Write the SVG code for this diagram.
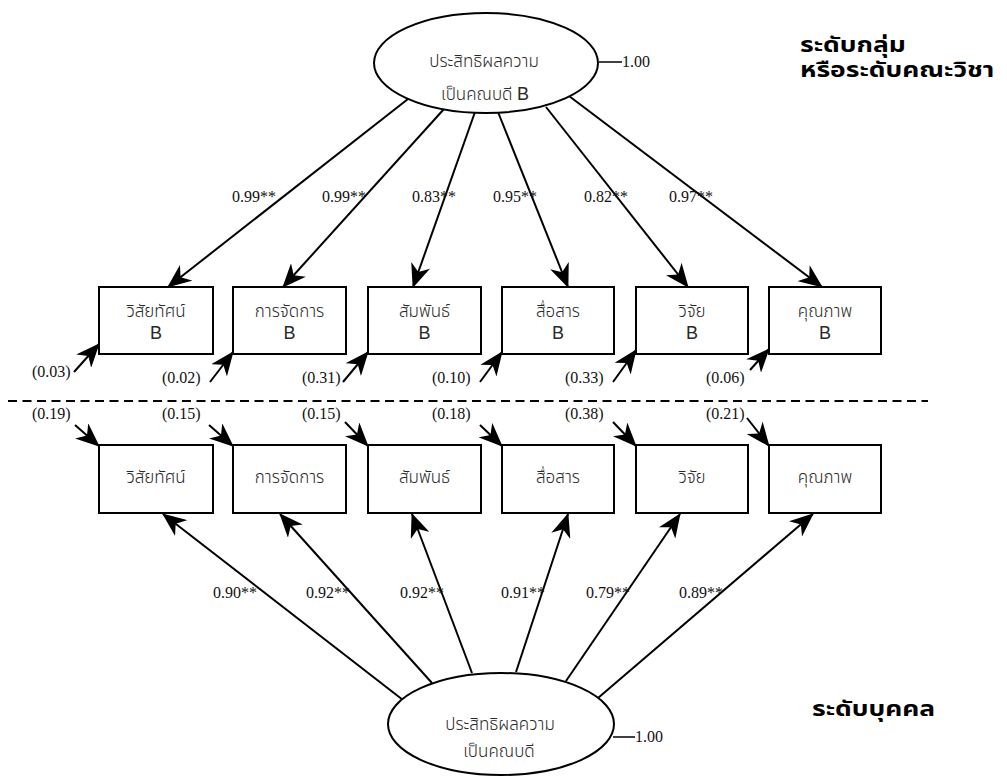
<svg xmlns="http://www.w3.org/2000/svg" width="1007" height="783" viewBox="0 0 1007 783">
  <style>
    .num { font-family: "Liberation Serif", "Times New Roman", serif; font-size: 16px; fill: #111; }
    .th { font-family: "Noto Sans Thai", "Noto Sans Thai Looped", "Noto Sans", "DejaVu Sans", sans-serif; font-size: 17px; font-weight: 300; fill: #2a2a2a; text-anchor: middle; }
    .lat { font-family: "Liberation Sans", Arial, sans-serif; font-size: 18px; fill: #2a2a2a; text-anchor: middle; }
    .lvl { font-family: "Noto Sans Thai", "Noto Sans Thai Looped", "Noto Sans", "DejaVu Sans", sans-serif; font-size: 22px; font-weight: bold; fill: #000; }
    .box { fill: #fff; stroke: #000; stroke-width: 2; }
    .ell { fill: #fff; stroke: #000; stroke-width: 2; }
    .arr { stroke: #000; stroke-width: 2; fill: none; marker-end: url(#head); }
    .line { stroke: #000; stroke-width: 1.5; fill: none; }
  </style>
  <defs>
    <!-- stealth-style arrowhead, tip at the end of the line -->
    <marker id="head" viewBox="0 0 24 20" refX="23" refY="10" markerWidth="24" markerHeight="20" markerUnits="userSpaceOnUse" orient="auto">
      <path d="M0,0 L24,10 L0,20 L7,10 Z" fill="#000"/>
    </marker>
  </defs>

  <rect width="1007" height="783" fill="#fff"/>

  <!-- connectors -->
  <g id="connectors">
    <!-- group-level loadings -->
    <line class="arr" x1="408" y1="99" x2="168" y2="287"/>
    <line class="arr" x1="444" y1="109" x2="283" y2="287"/>
    <line class="arr" x1="475" y1="112" x2="413" y2="287"/>
    <line class="arr" x1="498" y1="112" x2="568" y2="287"/>
    <line class="arr" x1="546" y1="107" x2="688" y2="287"/>
    <line class="arr" x1="569" y1="96" x2="822" y2="287"/>
    <!-- group-level error terms -->
    <line class="arr" x1="74" y1="372" x2="99" y2="344"/>
    <line class="arr" x1="210" y1="382" x2="233" y2="352"/>
    <line class="arr" x1="343" y1="382" x2="368" y2="352"/>
    <line class="arr" x1="480" y1="382" x2="502" y2="352"/>
    <line class="arr" x1="613" y1="382" x2="636" y2="350"/>
    <line class="arr" x1="750" y1="370" x2="769" y2="349"/>
    <!-- individual-level error terms -->
    <line class="arr" x1="75" y1="425" x2="99" y2="446"/>
    <line class="arr" x1="209" y1="425" x2="233" y2="446"/>
    <line class="arr" x1="345" y1="422" x2="368" y2="446"/>
    <line class="arr" x1="480" y1="425" x2="502" y2="446"/>
    <line class="arr" x1="613" y1="422" x2="636" y2="446"/>
    <line class="arr" x1="747" y1="418" x2="769" y2="446"/>
    <!-- individual-level loadings -->
    <line class="arr" x1="403" y1="700" x2="163" y2="514"/>
    <line class="arr" x1="432" y1="683" x2="280" y2="514"/>
    <line class="arr" x1="472" y1="673" x2="412" y2="514"/>
    <line class="arr" x1="516" y1="672" x2="568" y2="514"/>
    <line class="arr" x1="566" y1="681" x2="680" y2="514"/>
    <line class="arr" x1="598" y1="698" x2="813" y2="514"/>
    <!-- variance ticks -->
    <line class="line" x1="599" y1="62" x2="622" y2="62"/>
    <line class="line" x1="613" y1="737" x2="635" y2="737"/>
    <!-- level separator -->
    <line x1="8" y1="401" x2="928" y2="401" stroke="#000" stroke-width="2" stroke-dasharray="9,5.5"/>
  </g>

  <!-- latent factor, group level -->
  <g id="factor-group">
    <ellipse class="ell" cx="486" cy="63" rx="112" ry="50"/>
    <text class="th" x="484" y="67">ประสิทธิผลความ</text>
    <text class="th" x="485" y="100">เป็นคณบดี <tspan class="lat" style="text-anchor:start">B</tspan></text>
    <text class="num" x="622" y="67">1.00</text>
  </g>

  <!-- latent factor, individual level -->
  <g id="factor-individual">
    <ellipse class="ell" cx="501" cy="724" rx="113" ry="51"/>
    <text class="th" x="500" y="730">ประสิทธิผลความ</text>
    <text class="th" x="499" y="757">เป็นคณบดี</text>
    <text class="num" x="635" y="742">1.00</text>
  </g>

  <!-- group-level indicators -->
  <g id="vision-b">
    <rect class="box" x="99" y="287" width="114" height="67"/>
    <text class="th" x="156" y="317">วิสัยทัศน์</text>
    <text class="lat" x="156" y="339">B</text>
  </g>
  <g id="management-b">
    <rect class="box" x="233" y="287" width="113" height="67"/>
    <text class="th" x="289.5" y="317">การจัดการ</text>
    <text class="lat" x="289.5" y="339">B</text>
  </g>
  <g id="relations-b">
    <rect class="box" x="368" y="287" width="113" height="67"/>
    <text class="th" x="424.5" y="317">สัมพันธ์</text>
    <text class="lat" x="424.5" y="339">B</text>
  </g>
  <g id="communication-b">
    <rect class="box" x="502" y="287" width="112" height="67"/>
    <text class="th" x="558" y="317">สื่อสาร</text>
    <text class="lat" x="558" y="339">B</text>
  </g>
  <g id="research-b">
    <rect class="box" x="636" y="287" width="112" height="67"/>
    <text class="th" x="692" y="317">วิจัย</text>
    <text class="lat" x="692" y="339">B</text>
  </g>
  <g id="quality-b">
    <rect class="box" x="769" y="287" width="112" height="67"/>
    <text class="th" x="825" y="317">คุณภาพ</text>
    <text class="lat" x="825" y="339">B</text>
  </g>

  <!-- individual-level indicators -->
  <g id="vision">
    <rect class="box" x="99" y="445" width="114" height="68"/>
    <text class="th" x="156" y="483">วิสัยทัศน์</text>
  </g>
  <g id="management">
    <rect class="box" x="233" y="445" width="113" height="68"/>
    <text class="th" x="289.5" y="483">การจัดการ</text>
  </g>
  <g id="relations">
    <rect class="box" x="368" y="445" width="113" height="68"/>
    <text class="th" x="424.5" y="483">สัมพันธ์</text>
  </g>
  <g id="communication">
    <rect class="box" x="502" y="445" width="112" height="68"/>
    <text class="th" x="558" y="483">สื่อสาร</text>
  </g>
  <g id="research">
    <rect class="box" x="636" y="445" width="112" height="68"/>
    <text class="th" x="692" y="483">วิจัย</text>
  </g>
  <g id="quality">
    <rect class="box" x="769" y="445" width="112" height="68"/>
    <text class="th" x="825" y="483">คุณภาพ</text>
  </g>

  <!-- coefficients -->
  <g id="labels">
    <text class="num" x="232" y="202">0.99**</text>
    <text class="num" x="322" y="202">0.99**</text>
    <text class="num" x="412" y="202">0.83**</text>
    <text class="num" x="493" y="202">0.95**</text>
    <text class="num" x="584" y="202">0.82**</text>
    <text class="num" x="669" y="202">0.97**</text>

    <text class="num" x="32" y="377">(0.03)</text>
    <text class="num" x="162" y="383">(0.02)</text>
    <text class="num" x="302" y="383">(0.31)</text>
    <text class="num" x="432" y="383">(0.10)</text>
    <text class="num" x="565" y="383">(0.33)</text>
    <text class="num" x="706" y="383">(0.06)</text>

    <text class="num" x="32" y="419">(0.19)</text>
    <text class="num" x="162" y="419">(0.15)</text>
    <text class="num" x="302" y="419">(0.15)</text>
    <text class="num" x="432" y="419">(0.18)</text>
    <text class="num" x="565" y="419">(0.38)</text>
    <text class="num" x="706" y="419">(0.21)</text>

    <text class="num" x="213" y="598">0.90**</text>
    <text class="num" x="306" y="598">0.92**</text>
    <text class="num" x="400" y="598">0.92**</text>
    <text class="num" x="501" y="598">0.91**</text>
    <text class="num" x="586" y="598">0.79**</text>
    <text class="num" x="679" y="598">0.89**</text>
  </g>

  <!-- level captions, set wide -->
  <g id="level-labels">
    <text class="lvl" transform="translate(800,52) scale(1.2,1)">ระดับกลุ่ม</text>
    <text class="lvl" transform="translate(800,77) scale(1.2,1)">หรือระดับคณะวิชา</text>
    <text class="lvl" transform="translate(812,716) scale(1.2,1)">ระดับบุคคล</text>
  </g>
</svg>
